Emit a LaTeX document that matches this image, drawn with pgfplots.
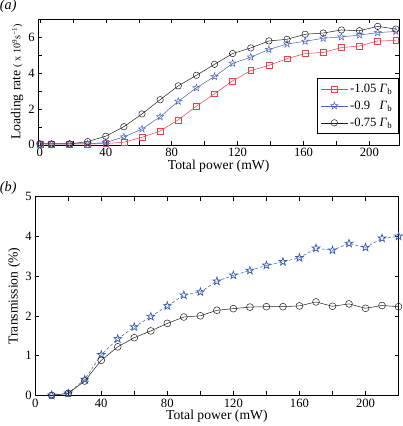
\documentclass[border=0pt]{standalone}
\usepackage{fontspec}
\setmainfont{Liberation Serif}
\usepackage{pgfplots}
\pgfplotsset{compat=1.18}
\usetikzlibrary{calc}

\definecolor{lred}{RGB}{232,64,72}
\definecolor{lblue}{RGB}{72,100,188}
\definecolor{dblue}{RGB}{52,92,175}
\definecolor{dgray}{RGB}{30,30,30}

% MATLAB-like pentagram outline
\pgfdeclareplotmark{pentagram}{%
  \pgfpathmoveto{\pgfpointpolar{90}{1.15\pgfplotmarksize}}%
  \pgfpathlineto{\pgfpointpolar{126}{0.46\pgfplotmarksize}}%
  \pgfpathlineto{\pgfpointpolar{162}{1.15\pgfplotmarksize}}%
  \pgfpathlineto{\pgfpointpolar{198}{0.46\pgfplotmarksize}}%
  \pgfpathlineto{\pgfpointpolar{234}{1.15\pgfplotmarksize}}%
  \pgfpathlineto{\pgfpointpolar{270}{0.46\pgfplotmarksize}}%
  \pgfpathlineto{\pgfpointpolar{306}{1.15\pgfplotmarksize}}%
  \pgfpathlineto{\pgfpointpolar{342}{0.46\pgfplotmarksize}}%
  \pgfpathlineto{\pgfpointpolar{18}{1.15\pgfplotmarksize}}%
  \pgfpathlineto{\pgfpointpolar{54}{0.46\pgfplotmarksize}}%
  \pgfpathclose\pgfusepathqstroke}

\pgfplotsset{
  matlab/.style={
    scale only axis,
    axis line style={line width=0.5pt},
    tick style={black, line width=0.4pt},
    major tick length=4bp, minor tick length=4bp,
    tick align=inside,
    /pgf/number format/assume math mode=true,
    ticklabel style={font=\fontsize{12.5bp}{14bp}\selectfont},
    label style={font=\fontsize{13.5bp}{15bp}\selectfont},
    xlabel style={yshift=4bp},
    ylabel style={yshift=-2bp},
  }
}

\begin{document}
\begin{tikzpicture}
% (b) transmission
\begin{axis}[matlab, name=bot,
  at={(0,0)}, anchor=south west,
  width=359.5bp, height=196.6bp,
  xmin=0, xmax=220, ymin=0, ymax=5,
  xtick={0,40,...,200}, minor xtick={20,60,...,220},
  ytick={0,1,...,5},
  xlabel={Total power (mW)},
  ylabel={Transmission (\%)},
]
\addplot[dblue, densely dashed, line width=0.5pt, mark=pentagram, mark size=3.5bp,
  mark options={solid, line width=0.7pt}] coordinates {
(10,0) (20,0.05) (30,0.40) (40,1.02) (50,1.42) (60,1.72) (70,1.98) (80,2.25)
(90,2.52) (100,2.60) (110,2.87) (120,3.02) (130,3.14) (140,3.27) (150,3.36)
(160,3.46) (170,3.70) (180,3.65) (190,3.82) (200,3.72) (210,3.95) (220,4.00)
};
\addplot[dgray, line width=0.5pt, mark=o, mark size=3.4bp,
  mark options={line width=0.5pt}] coordinates {
(10,0) (20,0.05) (30,0.36) (40,0.88) (50,1.22) (60,1.45) (70,1.62) (80,1.81)
(90,1.97) (100,2.00) (110,2.14) (120,2.18) (130,2.22) (140,2.23) (150,2.23)
(160,2.25) (170,2.35) (180,2.24) (190,2.30) (200,2.19) (210,2.26) (220,2.23)
};
\end{axis}

% (a) loading rate
\begin{axis}[matlab, name=top,
  at={(3bp,247.8bp)}, anchor=south west,
  width=357bp, height=124.5bp,
  xmin=-1, xmax=218, ymin=0, ymax=7,
  xtick={0,40,...,200}, minor xtick={20,60,...,200},
  ytick={0,2,4,6}, minor ytick={1,3,5},
  xlabel={Total power (mW)},
  ylabel={Loading rate {\fontsize{10bp}{12bp}\selectfont( x 10\textsuperscript{9}s\textsuperscript{−1})}},
  legend style={at={(0.997,0.53)}, anchor=north east, draw=black, line width=0.4pt,
    font=\fontsize{12.5bp}{14bp}\selectfont, row sep=3bp, inner sep=3.5bp},
  legend cell align=left,
  legend image code/.code={%
    \draw[#1, mark=none] (0cm,0cm) -- (0.95cm,0cm);
    \draw[#1, only marks] plot coordinates {(0.475cm,0cm)};},
]
\addplot[lred, line width=0.5pt, mark=square, mark size=2.9bp] coordinates {
(0,0.05) (7,0.05) (18,0.05) (29,0.05) (40,0.07) (51,0.15) (62,0.42) (73,0.77)
(84,1.39) (95,2.15) (106,2.84) (117,3.56) (128,4.13) (139,4.42) (150,4.79)
(161,5.08) (172,5.14) (183,5.41) (194,5.50) (205,5.78) (216,5.80)
};
\addplot[lblue, line width=0.5pt, mark=pentagram, mark size=3.2bp] coordinates {
(0,0.05) (7,0.05) (18,0.05) (29,0.05) (40,0.13) (51,0.44) (62,0.88) (73,1.56)
(84,2.42) (95,3.17) (106,3.80) (117,4.53) (128,4.88) (139,5.30) (150,5.61)
(161,5.76) (172,5.93) (183,6.00) (194,6.11) (205,6.24) (216,6.31)
};
\addplot[dgray, line width=0.5pt, mark=o, mark size=3.2bp] coordinates {
(0,0.05) (7,0.05) (18,0.05) (29,0.18) (40,0.48) (51,1.01) (62,1.72) (73,2.51)
(84,3.28) (95,3.87) (106,4.48) (117,5.08) (128,5.39) (139,5.78) (150,5.87)
(161,6.15) (172,6.22) (183,6.39) (194,6.35) (205,6.59) (216,6.44)
};
\addlegendentry{-1.05 \textit{Γ}\textsubscript{b}}
\addlegendentry{-0.9\hphantom{5} \textit{Γ}\textsubscript{b}}
\addlegendentry{-0.75 \textit{Γ}\textsubscript{b}}
\end{axis}

\node[anchor=north west, inner sep=0pt, font=\fontsize{14bp}{16bp}\selectfont\itshape]
  at ($(top.north west)+(-38bp,19bp)$) {(a)};
\node[anchor=north west, inner sep=0pt, font=\fontsize{14bp}{16bp}\selectfont\itshape]
  at ($(bot.north west)+(-35bp,15bp)$) {(b)};
\end{tikzpicture}
\end{document}
